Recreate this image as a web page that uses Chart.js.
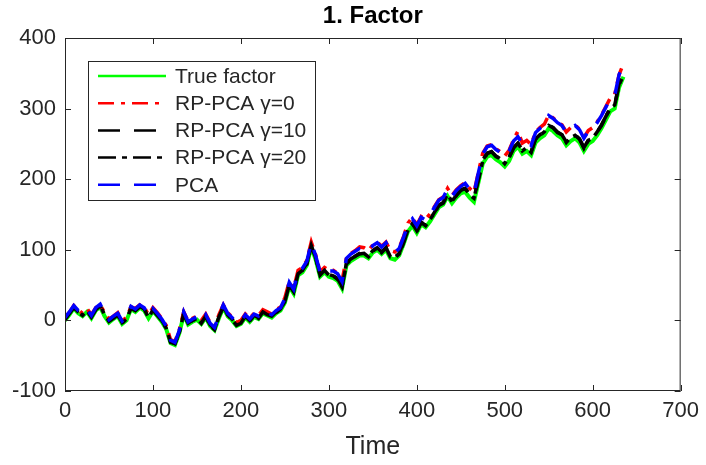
<!DOCTYPE html>
<html>
<head>
<meta charset="utf-8">
<script src="https://cdn.jsdelivr.net/npm/chart.js@4"></script>
<style>
  body { margin: 0; background: #fff; }
  canvas { display: block; }
</style>
</head>
<body>
<canvas id="chart" width="706" height="465"></canvas>
<script>
// time steps (every 5 periods)
const times = Array.from({ length: 128 }, (_, i) => i * 5);

const trueFactor = [
  0, 8, 17, 10, 6, 12, 3, 14, 19, 6,
  -3, 2, 6, -5, 0, 16, 12, 18, 14, 3,
  13, 6, -2, -12, -32, -35, -18, 8, -6, -2,
  1, -5, 4, -8, -14, 3, 18, 6, 0, -8,
  -5, 4, -2, 5, 2, 10, 7, 4, 10, 14,
  25, 48, 38, 64, 68, 78, 104, 86, 62, 68,
  62, 60, 56, 45, 78, 84, 88, 92, 92, 88,
  96, 100, 94, 100, 88, 86, 92, 108, 126, 134,
  124, 136, 132, 140, 150, 160, 164, 176, 166, 174,
  180, 182, 174, 168, 195, 222, 232, 234, 228, 224,
  218, 226, 240, 246, 236, 240, 234, 252, 258, 262,
  272, 268, 262, 258, 248, 254, 258, 252, 240, 250,
  254, 262, 272, 284, 296, 300, 330, 345
];

const rpPca0 = [
  5, 11, 21, 15, 10, 17, 8, 18, 22, 11,
  2, 6, 11, 0, 4, 19, 17, 22, 19, 8,
  18, 11, 3, -7, -27, -30, -13, 12, -1, 3,
  6, 0, 9, -3, -9, 8, 22, 11, 5, -3,
  0, 9, 3, 10, 7, 15, 12, 9, 15, 19,
  32, 55, 45, 71, 75, 85, 111, 93, 69, 75,
  71, 71, 67, 56, 89, 95, 99, 104, 103, 99,
  107, 111, 105, 111, 99, 97, 103, 119, 138, 146,
  135, 147, 143, 151, 161, 171, 175, 187, 177, 185,
  191, 195, 187, 181, 210, 237, 247, 249, 243, 239,
  233, 241, 256, 268, 251, 255, 249, 267, 273, 278,
  291, 287, 281, 277, 267, 273, 277, 271, 259, 269,
  273, 281, 291, 303, 315, 320, 348, 364
];

const rpPca10 = [
  2, 10, 19, 12, 8, 14, 5, 16, 21, 8,
  -1, 4, 8, -3, 2, 18, 14, 20, 16, 5,
  15, 8, 0, -10, -30, -33, -16, 10, -4, 0,
  3, -3, 6, -6, -12, 5, 20, 8, 2, -6,
  -3, 6, 0, 7, 4, 12, 9, 6, 12, 16,
  28, 51, 41, 67, 71, 81, 107, 89, 65, 71,
  65, 63, 59, 48, 81, 87, 91, 95, 95, 91,
  99, 103, 97, 103, 91, 89, 95, 111, 129, 137,
  127, 139, 135, 143, 153, 163, 167, 179, 169, 177,
  185, 187, 179, 173, 200, 227, 237, 239, 233, 229,
  223, 231, 245, 251, 241, 245, 239, 257, 263, 267,
  277, 273, 267, 263, 253, 259, 263, 257, 245, 255,
  259, 267, 277, 289, 301, 305, 335, 348
];

const rpPca20 = [
  1, 10, 18, 12, 7, 14, 5, 15, 21, 8,
  -1, 3, 8, -4, 2, 17, 14, 19, 16, 4,
  15, 7, 0, -11, -31, -33, -17, 10, -5, 0,
  3, -4, 6, -7, -13, 5, 19, 8, 1, -7,
  -4, 6, -1, 7, 3, 12, 8, 6, 11, 16,
  27, 50, 41, 66, 71, 80, 106, 89, 64, 71,
  64, 63, 58, 48, 80, 86, 91, 94, 95, 90,
  98, 103, 96, 103, 90, 89, 94, 110, 128, 137,
  126, 139, 134, 143, 152, 163, 166, 179, 168, 177,
  184, 187, 178, 173, 199, 226, 236, 239, 232, 229,
  222, 231, 244, 251, 240, 245, 238, 257, 262, 267,
  276, 273, 266, 263, 252, 259, 262, 257, 244, 255,
  258, 267, 276, 289, 300, 305, 334, 347
];

const pca = [
  4, 12, 21, 14, 10, 16, 7, 18, 23, 10,
  1, 6, 10, -1, 4, 20, 16, 22, 18, 7,
  17, 10, 2, -8, -28, -31, -14, 12, -2, 2,
  5, -1, 8, -4, -10, 7, 22, 10, 4, -4,
  -1, 8, 2, 9, 6, 14, 11, 8, 14, 18,
  31, 54, 44, 70, 74, 84, 110, 92, 68, 74,
  70, 70, 66, 55, 88, 94, 98, 102, 102, 98,
  106, 110, 104, 110, 98, 96, 102, 118, 136, 144,
  134, 146, 142, 150, 160, 170, 174, 186, 176, 184,
  190, 194, 186, 180, 209, 236, 246, 248, 242, 238,
  232, 240, 254, 260, 250, 254, 248, 266, 272, 276,
  290, 286, 280, 276, 266, 272, 276, 270, 258, 268,
  272, 280, 290, 302, 314, 318, 348, 365
];

const xTicks = [0, 100, 200, 300, 400, 500, 600, 700];
const yTicks = [-100, 0, 100, 200, 300, 400];

const seriesNames = ["True factor", "RP-PCA \u03B3=0", "RP-PCA \u03B3=10", "RP-PCA \u03B3=20", "PCA"];
const seriesColors = ["#00ff00", "#ff0000", "#000000", "#000000", "#0000ff"];
const seriesDash = [[], [16, 7, 4, 7], [22, 14], [18, 6, 5, 6], [22, 14]];
const seriesWidth = [4, 3.5, 3.5, 3.5, 3.5];

const TEXT = "#262626";
const FONT = "'Liberation Sans', Arial, Helvetica, sans-serif";

function toPoints(vals) {
  return vals.map((v, i) => ({ x: times[i], y: v }));
}

const allSeries = [trueFactor, rpPca0, rpPca10, rpPca20, pca];

// later datasets should sit on top, like MATLAB plot order
const datasets = allSeries.map((vals, i) => ({
  label: seriesNames[i],
  data: toPoints(vals),
  borderColor: seriesColors[i],
  borderDash: seriesDash[i],
  borderWidth: seriesWidth[i],
  pointRadius: 0,
  tension: 0,
  fill: false,
  order: allSeries.length - i,
}));

const framePlugin = {
  id: "frame",
  afterDatasetsDraw(chart) {
    const ctx = chart.ctx;
    const { left, right, top, bottom } = chart.chartArea;
    const xs = chart.scales.x;
    const ys = chart.scales.y;
    ctx.save();

    // axes box
    ctx.strokeStyle = TEXT;
    ctx.lineWidth = 1;
    ctx.setLineDash([]);
    ctx.strokeRect(left + 0.5, top + 0.5, right - left - 1, bottom - top - 1);

    // inward ticks
    ctx.beginPath();
    xTicks.forEach((t) => {
      const px = Math.round(xs.getPixelForValue(t)) + 0.5;
      ctx.moveTo(px, bottom);
      ctx.lineTo(px, bottom - 6);
      ctx.moveTo(px, top);
      ctx.lineTo(px, top + 6);
    });
    yTicks.forEach((t) => {
      const py = Math.round(ys.getPixelForValue(t)) + 0.5;
      ctx.moveTo(left, py);
      ctx.lineTo(left + 6, py);
      ctx.moveTo(right, py);
      ctx.lineTo(right - 6, py);
    });
    ctx.stroke();

    // legend
    const lx = 88, ly = 61, lw = 227, lh = 139;
    ctx.fillStyle = "#fff";
    ctx.fillRect(lx, ly, lw, lh);
    ctx.strokeStyle = TEXT;
    ctx.lineWidth = 1;
    ctx.strokeRect(lx + 0.5, ly + 0.5, lw, lh);
    ctx.font = "21px " + FONT;
    ctx.textBaseline = "middle";
    ctx.textAlign = "left";
    seriesNames.forEach((name, i) => {
      const y = 76 + i * 27.2;
      ctx.strokeStyle = seriesColors[i];
      ctx.lineWidth = 2.5;
      ctx.setLineDash(seriesDash[i]);
      ctx.beginPath();
      ctx.moveTo(98, y);
      ctx.lineTo(166, y);
      ctx.stroke();
      ctx.fillStyle = TEXT;
      ctx.fillText(name, 175, y + 1);
    });
    ctx.setLineDash([]);

    // title + x axis label
    ctx.fillStyle = "#000";
    ctx.textAlign = "center";
    ctx.font = "bold 24px " + FONT;
    ctx.fillText("1. Factor", (left + right) / 2, 16);
    ctx.fillStyle = TEXT;
    ctx.font = "25px " + FONT;
    ctx.fillText("Time", (left + right) / 2, 447);
    ctx.restore();
  },
};

new Chart(document.getElementById("chart"), {
  type: "line",
  data: { datasets },
  options: {
    responsive: false,
    animation: false,
    events: [],
    layout: { padding: { top: 38, right: 22, left: 0, bottom: 0 } },
    plugins: { legend: { display: false }, tooltip: { enabled: false }, title: { display: false } },
    scales: {
      x: {
        type: "linear",
        min: 0,
        max: 700,
        afterFit: (s) => { s.height = 74; },
        afterBuildTicks: (s) => { s.ticks = xTicks.map((v) => ({ value: v })); },
        grid: { display: false, drawTicks: false },
        border: { display: false },
        ticks: { color: TEXT, font: { size: 22, family: FONT }, padding: 7, maxRotation: 0 },
      },
      y: {
        type: "linear",
        min: -100,
        max: 400,
        afterFit: (s) => { s.width = 65; },
        afterBuildTicks: (s) => { s.ticks = yTicks.map((v) => ({ value: v })); },
        grid: { display: false, drawTicks: false },
        border: { display: false },
        ticks: { color: TEXT, font: { size: 22, family: FONT }, padding: 9 },
      },
    },
  },
  plugins: [framePlugin],
});
</script>
</body>
</html>
